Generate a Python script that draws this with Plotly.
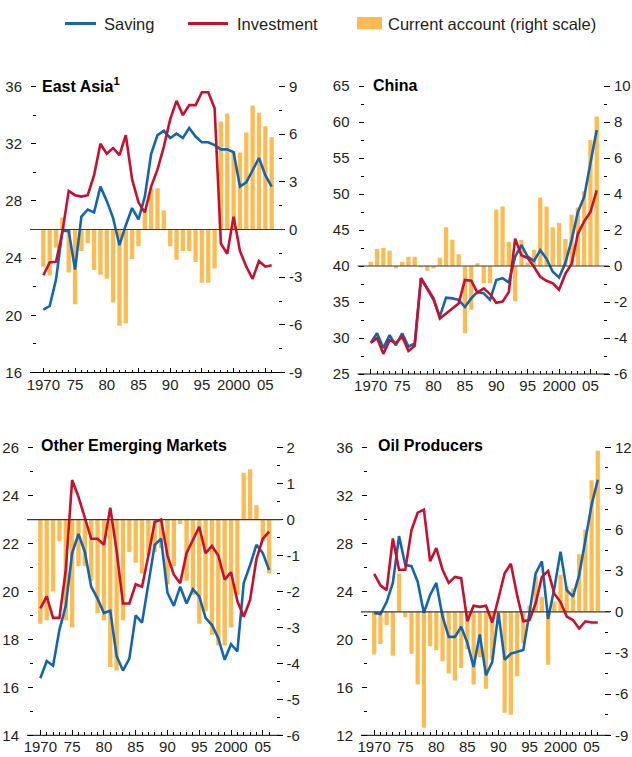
import plotly.graph_objects as go

# ---------------- data ----------------
YEARS = list(range(1970, 2007))

EA_SAVING = [20.4, 20.65, 22.5, 25.9, 25.9, 23.2, 26.9, 27.4, 27.2, 29.0,
             28.0, 26.8, 24.9, 26.3, 27.5, 26.7, 28.3, 31.3, 32.6, 32.9,
             32.4, 32.7, 32.4, 33.1, 32.5, 32.1, 32.1, 31.9, 31.6, 31.6,
             31.4, 29.0, 29.3, 30.2, 31.0, 29.8, 29.0]
EA_INVEST = [22.8, 23.7, 23.75, 25.8, 28.7, 28.4, 28.3, 28.4, 29.8, 32.0,
             31.3, 31.7, 31.2, 32.6, 29.5, 27.9, 27.2, 29.0, 30.2, 31.8,
             33.7, 35.0, 34.0, 34.7, 34.7, 35.6, 35.6, 34.5, 25.0, 24.3,
             26.9, 24.5, 23.4, 22.55, 23.8, 23.4, 23.5]
EA_CA = [-2.35, -2.9, -1.15, 0.75, -2.7, -4.7, -1.35, -0.85, -2.55, -2.85,
         -3.1, -4.6, -6.05, -5.9, -1.85, -1.05, 1.25, 2.6, 2.6, 1.2,
         -1.05, -1.9, -1.35, -1.35, -2.05, -3.35, -3.35, -2.45, 6.8, 7.3,
         4.85, 4.85, 6.1, 7.8, 7.35, 6.5, 5.8]

CN_SAVING = [29.35, 30.65, 28.6, 30.4, 29.0, 30.65, 28.8, 29.25, 38.3, 36.7,
             35.3, 33.0, 35.6, 35.5, 35.3, 34.3, 35.5, 36.4, 36.2, 35.3,
             38.05, 38.3, 37.7, 41.3, 42.9, 41.3, 40.7, 42.2, 41.0, 39.2,
             38.4, 40.4, 43.6, 47.5, 49.6, 54.3, 58.9]
CN_INVEST = [29.3, 30.0, 27.8, 29.7, 29.3, 30.2, 28.2, 28.9, 38.3, 36.9,
             35.5, 32.7, 33.4, 34.1, 34.8, 38.05, 37.95, 36.3, 36.9, 36.1,
             34.9, 35.05, 36.4, 43.8, 41.5, 41.1, 39.9, 38.5, 37.95, 37.6,
             36.7, 38.9, 40.3, 44.5, 46.2, 47.5, 50.5]
CN_CA = [0.24, 0.95, 1.0, 0.85, -0.13, 0.24, 0.52, 0.52, -0.07, -0.26,
         -0.13, 0.46, 2.15, 1.46, 0.65, -3.74, -2.43, 0.15, -0.96, -0.96,
         3.13, 3.3, 1.35, -1.96, 1.44, 0.2, 0.9, 3.8, 3.3, 2.15,
         2.4, 1.5, 2.85, 3.25, 4.15, 7.0, 8.3]

OE_SAVING = [16.38, 17.1, 16.9, 18.4, 19.4, 21.6, 22.4, 21.65, 20.2, 19.7,
             19.1, 19.2, 17.3, 16.7, 17.2, 19.0, 18.7, 20.4, 21.95, 22.2,
             19.95, 19.4, 20.2, 19.5, 20.1, 19.8, 18.9, 18.6, 18.05, 17.15,
             17.8, 17.5, 20.35, 21.1, 21.95, 21.6, 20.9]
OE_INVEST = [19.3, 19.8, 18.9, 18.9, 20.9, 24.65, 23.95, 23.1, 22.2, 22.2,
             21.95, 23.5, 21.7, 19.5, 19.5, 20.3, 20.2, 21.5, 22.9, 23.0,
             21.5, 20.7, 20.35, 21.6, 22.15, 22.7, 21.6, 21.9, 21.5, 20.5,
             20.8, 19.6, 18.95, 19.65, 21.35, 22.2, 22.5]
OE_CA = [-2.9, -2.8, -2.0, -0.6, -2.8, -3.0, -1.3, -1.3, -1.7, -2.6,
         -2.8, -4.1, -4.2, -2.8, -0.9, -1.2, -1.5, -1.0, -0.9, -0.8,
         -1.8, -1.3, -0.12, -1.7, -2.1, -2.9, -2.55, -3.2, -3.5, -3.5,
         -3.0, -2.1, 1.3, 1.4, 0.4, -0.6, -1.5]

OP_SAVING = [22.2, 22.1, 23.1, 24.7, 28.6, 26.2, 26.1, 24.8, 22.2, 23.7,
             24.7, 21.9, 20.2, 20.2, 21.05, 19.7, 17.7, 20.4, 17.0, 18.1,
             22.2, 18.3, 18.8, 18.95, 19.1, 22.2, 25.5, 26.5, 21.7, 24.25,
             27.3, 24.1, 23.55, 25.35, 28.3, 31.2, 33.3]
OP_INVEST = [25.45, 24.5, 24.1, 28.4, 25.8, 25.8, 29.1, 30.55, 30.8, 26.5,
             27.6, 25.8, 24.7, 25.2, 25.1, 21.5, 22.8, 22.7, 22.8, 21.4,
             23.4, 25.5, 26.3, 23.7, 21.5, 21.6, 23.0, 25.2, 25.7, 23.8,
             23.1, 21.9, 21.6, 20.9, 21.5, 21.4, 21.4]
OP_CA = [-3.1, -2.35, -0.95, -3.2, 2.8, -0.4, -3.05, -5.3, -8.45, -2.5,
         -2.8, -3.6, -4.5, -5.0, -4.1, -2.7, -5.3, -3.3, -5.6, -3.5,
         -0.4, -7.35, -7.5, -4.7, -2.3, 0.45, 2.6, 1.1, -3.85, 0.75,
         2.7, 1.85, 1.7, 4.2, 6.0, 9.6, 11.75]

X_TICKS = [1970, 1975, 1980, 1985, 1990, 1995, 2000, 2005]
X_TICKTEXT = ["1970", "75", "80", "85", "90", "95", "2000", "05"]

TITLES = ["East Asia<sup>1</sup>", "China", "Other Emerging Markets", "Oil Producers"]

LEFT_RANGES = [[16, 36], [25, 65], [14, 26], [12, 36]]
LEFT_MAJOR = [[16, 20, 24, 28, 32, 36], [25, 30, 35, 40, 45, 50, 55, 60, 65],
              [14, 16, 18, 20, 22, 24, 26], [12, 16, 20, 24, 28, 32, 36]]
LEFT_MINOR = [[18, 22, 26, 30, 34], [27.5, 32.5, 37.5, 42.5, 47.5, 52.5, 57.5, 62.5],
              [15, 17, 19, 21, 23, 25], [14, 18, 22, 26, 30, 34]]
RIGHT_RANGES = [[-9, 9], [-6, 10], [-6, 2], [-9, 12]]
RIGHT_MAJOR = [[-9, -6, -3, 0, 3, 6, 9], [-6, -4, -2, 0, 2, 4, 6, 8, 10],
               [-6, -5, -4, -3, -2, -1, 0, 1, 2], [-9, -6, -3, 0, 3, 6, 9, 12]]
RIGHT_MINOR = [[-7.5, -4.5, -1.5, 1.5, 4.5, 7.5], [-5, -3, -1, 1, 3, 5, 7, 9],
               [-5.5, -4.5, -3.5, -2.5, -1.5, -0.5, 0.5, 1.5],
               [-7.5, -4.5, -1.5, 1.5, 4.5, 7.5, 10.5]]

SERIES = [(EA_SAVING, EA_INVEST, EA_CA), (CN_SAVING, CN_INVEST, CN_CA),
          (OE_SAVING, OE_INVEST, OE_CA), (OP_SAVING, OP_INVEST, OP_CA)]

# ---------------- layout (pixels) ----------------
W, H = 632, 757
# plot boxes: x0, x1, ytop, ybottom
BOXES = [(37, 278, 86.5, 372.5), (364.5, 603, 86, 374),
         (34, 275.5, 447.7, 735.3), (368, 604, 447.3, 735.3)]
TITLE_POS = [(40, 85), (371, 85), (39, 446), (376, 446)]

BLUE = "#1565ad"
RED = "#c8102e"
BAR = "#fdbb52"
TXT = "#231f20"
FAMILY = "Liberation Sans, Arial, Helvetica, sans-serif"
TICKFONT = dict(family=FAMILY, size=15, color=TXT)


def fx(p):
    return p / W


def fy(p):
    return 1 - p / H


def fmt(v):
    return "%g" % v


fig = go.Figure()
shapes = []
annotations = []
layout = {}

for i in range(4):
    n = i + 1
    sx = "" if n == 1 else str(n)
    xid = "x" + sx
    ybase = "y" + sx           # right scale (bars)
    yover = "y" + str(n + 4)   # left scale (lines)
    sav, inv, ca = SERIES[i]
    x0, x1, yt, yb = BOXES[i]

    fig.add_trace(go.Bar(x=YEARS, y=ca, xaxis=xid, yaxis=ybase, width=0.68,
                         marker=dict(color=BAR, line=dict(width=0)),
                         name="Current account (right scale)", showlegend=False))
    fig.add_trace(go.Scatter(x=YEARS, y=sav, xaxis=xid, yaxis=yover, mode="lines",
                             line=dict(color=BLUE, width=2.6), name="Saving",
                             showlegend=False))
    fig.add_trace(go.Scatter(x=YEARS, y=inv, xaxis=xid, yaxis=yover, mode="lines",
                             line=dict(color=RED, width=2.6), name="Investment",
                             showlegend=False))

    layout["xaxis" + sx] = dict(
        domain=[fx(x0), fx(x1)], range=[1969, 2007], anchor=ybase,
        tickmode="array", tickvals=X_TICKS, ticktext=X_TICKTEXT,
        ticks="inside", ticklen=5, tickwidth=1, tickcolor="black",
        minor=dict(tickmode="array", tickvals=YEARS, ticks="inside", ticklen=3,
                   tickwidth=1, tickcolor="black", showgrid=False),
        showline=False, showgrid=False, zeroline=False, tickfont=TICKFONT,
        ticklabelstandoff=1, automargin=False, fixedrange=True)
    layout["yaxis" + sx] = dict(
        domain=[fy(yb), fy(yt)], range=RIGHT_RANGES[i], anchor=xid, side="right",
        tickmode="array", tickvals=RIGHT_MAJOR[i],
        ticktext=[fmt(v) for v in RIGHT_MAJOR[i]],
        ticks="outside", ticklen=6, tickwidth=1, tickcolor="black",
        minor=dict(tickmode="array", tickvals=RIGHT_MINOR[i], ticks="outside",
                   ticklen=3, tickwidth=1, tickcolor="black", showgrid=False),
        showline=False, showgrid=False, zeroline=False, tickfont=TICKFONT,
        ticklabelstandoff=1, automargin=False, fixedrange=True)
    layout["yaxis" + str(n + 4)] = dict(
        overlaying=ybase, range=LEFT_RANGES[i], anchor=xid, side="left",
        tickmode="array", tickvals=LEFT_MAJOR[i],
        ticktext=[fmt(v) for v in LEFT_MAJOR[i]],
        ticks="outside", ticklen=5, tickwidth=1, tickcolor="black",
        minor=dict(tickmode="array", tickvals=LEFT_MINOR[i], ticks="outside",
                   ticklen=3, tickwidth=1, tickcolor="black", showgrid=False),
        showline=False, showgrid=False, zeroline=False, tickfont=TICKFONT,
        ticklabelstandoff=6, automargin=False, fixedrange=True)

    # bottom axis line extending past the plot box
    shapes.append(dict(type="line", xref="paper", yref="paper",
                       x0=fx(x0 - 7), x1=fx(x1 + 6), y0=fy(yb), y1=fy(yb),
                       line=dict(color="black", width=1)))
    # zero line of right scale
    shapes.append(dict(type="line", xref="paper", yref=ybase,
                       x0=fx(x0 - 7), x1=fx(x1 + 6), y0=0, y1=0,
                       line=dict(color="#3a3a3a", width=1.2)))
    tx, ty = TITLE_POS[i]
    annotations.append(dict(text="<b>" + TITLES[i] + "</b>", xref="paper", yref="paper",
                            x=fx(tx), y=fy(ty), xanchor="left", yanchor="middle",
                            showarrow=False,
                            font=dict(family=FAMILY, size=16, color="black")))

# legend (drawn manually)
LEG_Y = 23.5
shapes.append(dict(type="line", xref="paper", yref="paper", x0=fx(65), x1=fx(96),
                   y0=fy(LEG_Y), y1=fy(LEG_Y), line=dict(color=BLUE, width=3)))
shapes.append(dict(type="line", xref="paper", yref="paper", x0=fx(188), x1=fx(228),
                   y0=fy(LEG_Y), y1=fy(LEG_Y), line=dict(color=RED, width=3)))
shapes.append(dict(type="rect", xref="paper", yref="paper", x0=fx(357), x1=fx(382),
                   y0=fy(29.3), y1=fy(17), fillcolor=BAR, line=dict(width=0)))
for label, lx in [("Saving", 102), ("Investment", 235),
                  ("Current account (right scale)", 386)]:
    annotations.append(dict(text=label, xref="paper", yref="paper", x=fx(lx),
                            y=fy(LEG_Y), xanchor="left", yanchor="middle",
                            showarrow=False,
                            font=dict(family=FAMILY, size=16.5, color=TXT)))

fig.update_layout(**layout)
fig.update_layout(template="none", width=W, height=H, autosize=False,
                  margin=dict(l=0, r=0, t=0, b=0, pad=0),
                  paper_bgcolor="white", plot_bgcolor="white",
                  showlegend=False, shapes=shapes, annotations=annotations,
                  bargap=0.3, hovermode=False)

fig.write_html("out.html",
               config={"displayModeBar": False, "staticPlot": True},
               post_script="document.body.style.margin='0';"
                           "document.body.style.overflow='hidden';")
